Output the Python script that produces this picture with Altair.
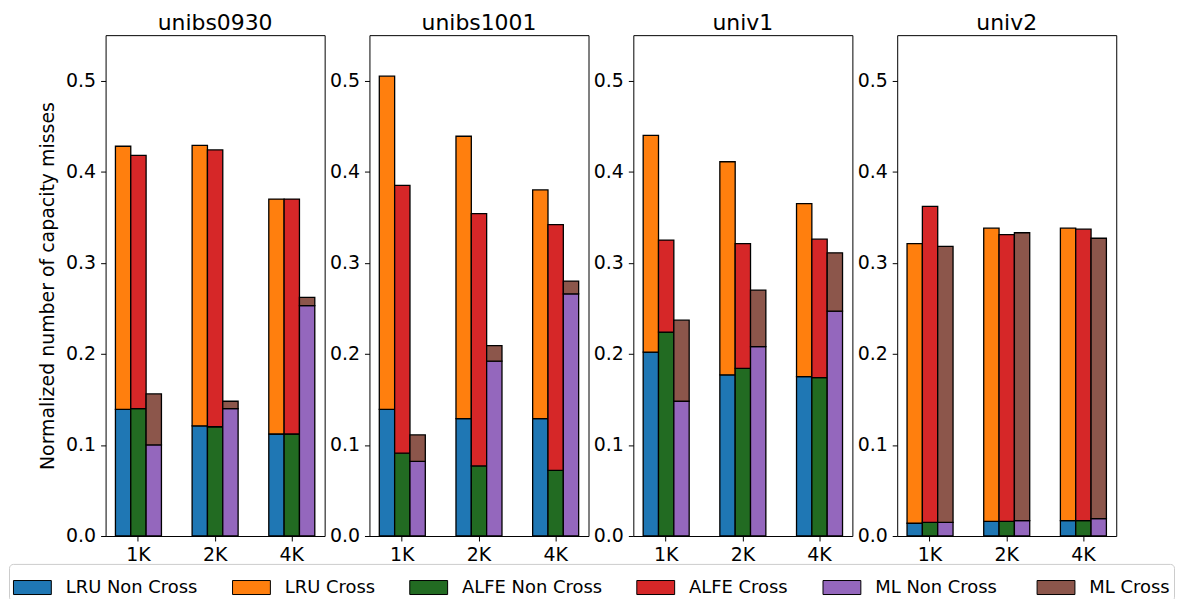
import altair as alt
import pandas as pd

# ---------------- data ----------------
panels = ["unibs0930", "unibs1001", "univ1", "univ2"]
sizes = ["1K", "2K", "4K"]
methods = ["LRU", "ALFE", "ML"]
series = ["LRU Non Cross", "LRU Cross", "ALFE Non Cross", "ALFE Cross",
          "ML Non  Cross", "ML Cross"]
colors = ["#1f77b4", "#ff7f0e", "#226b22", "#d62728", "#9467bd", "#8c564b"]

# bottom (non-cross) segment of every bar
lru_non_cross = {"unibs0930": [0.139, 0.121, 0.112], "unibs1001": [0.139, 0.129, 0.129],
                 "univ1": [0.202, 0.177, 0.175], "univ2": [0.014, 0.016, 0.017]}
alfe_non_cross = {"unibs0930": [0.140, 0.120, 0.112], "unibs1001": [0.091, 0.077, 0.072],
                  "univ1": [0.224, 0.184, 0.174], "univ2": [0.015, 0.016, 0.017]}
ml_non_cross = {"unibs0930": [0.100, 0.140, 0.253], "unibs1001": [0.082, 0.192, 0.266],
                "univ1": [0.148, 0.208, 0.247], "univ2": [0.015, 0.017, 0.019]}
# top (cross) segment stacked on it
lru_cross = {"unibs0930": [0.289, 0.308, 0.258], "unibs1001": [0.366, 0.310, 0.251],
             "univ1": [0.238, 0.234, 0.190], "univ2": [0.307, 0.322, 0.321]}
alfe_cross = {"unibs0930": [0.278, 0.304, 0.258], "unibs1001": [0.294, 0.277, 0.270],
              "univ1": [0.101, 0.137, 0.152], "univ2": [0.347, 0.315, 0.320]}
ml_cross = {"unibs0930": [0.056, 0.008, 0.009], "unibs1001": [0.029, 0.017, 0.014],
            "univ1": [0.089, 0.062, 0.064], "univ2": [0.303, 0.316, 0.308]}

y_ticks = [0.0, 0.1, 0.2, 0.3, 0.4, 0.5]

parts = [
    ("LRU", lru_non_cross, lru_cross, series[0], series[1]),
    ("ALFE", alfe_non_cross, alfe_cross, series[2], series[3]),
    ("ML", ml_non_cross, ml_cross, series[4], series[5]),
]

rows = []
for p in panels:
    for i, s in enumerate(sizes):
        for m, ncd, cd, nc_name, c_name in parts:
            nc = ncd[p][i]
            c = cd[p][i]
            rows.append(dict(panel=p, size=s, method=m, series=nc_name, lo=0.0, hi=nc))
            rows.append(dict(panel=p, size=s, method=m, series=c_name, lo=nc, hi=nc + c))
df = pd.DataFrame(rows)

FONT = "DejaVu Sans"
legend_symbol = "M-1,-0.37H1V0.37H-1Z"

legend = alt.Legend(
    orient="none", legendX=-97, legendY=531, direction="horizontal", columns=6,
    title=None, symbolType=legend_symbol, symbolSize=1444,
    symbolStrokeColor="black", symbolStrokeWidth=1, symbolOpacity=1,
    labelFontSize=18, labelFont=FONT, labelColor="black", labelLimit=400,
    columnPadding=32, labelOffset=14, strokeColor="#cccccc", cornerRadius=4,
    padding=4, fillColor="white",
)


def make_panel(p, first):
    d = df[df.panel == p]
    yaxis = alt.Axis(values=y_ticks, format=".1f", grid=False, domain=False,
                     tickColor="black", tickSize=5, labelPadding=5,
                     labelFontSize=19, labelFont=FONT, labelColor="black",
                     title="Normalized number of capacity misses" if first else None,
                     titleFontSize=19, titleFont=FONT, titleFontWeight="normal",
                     titleColor="black", titlePadding=8)
    return alt.Chart(d).mark_bar(stroke="black", strokeWidth=1.3, opacity=1).encode(
        x=alt.X("size:N", sort=sizes, title=None,
                scale=alt.Scale(paddingInner=0.4, paddingOuter=0.1285),
                axis=alt.Axis(labelAngle=0, domain=False, tickColor="black", tickSize=5,
                              labelPadding=5, labelFontSize=19, labelFont=FONT,
                              labelColor="black")),
        xOffset=alt.XOffset("method:N", sort=methods,
                            scale=alt.Scale(paddingInner=0, paddingOuter=0)),
        y=alt.Y("lo:Q", scale=alt.Scale(domain=[0, 0.55], nice=False, zero=True), axis=yaxis),
        y2="hi:Q",
        color=alt.Color("series:N", sort=series,
                        scale=alt.Scale(domain=series, range=colors), legend=legend),
    ).properties(
        width=220, height=503,
        title=alt.TitleParams(p, fontSize=22, font=FONT, fontWeight="normal",
                              color="black", offset=0),
    )


chart = alt.hconcat(*[make_panel(p, i == 0) for i, p in enumerate(panels)], spacing=3)
chart = chart.resolve_scale(color="shared").resolve_legend(color="shared").configure_view(
    stroke="black", strokeWidth=1
).properties(
    padding={"left": 0, "top": 2, "right": 0, "bottom": 0}
)

chart.save("out.html", embed_options={"renderer": "svg", "actions": False})
